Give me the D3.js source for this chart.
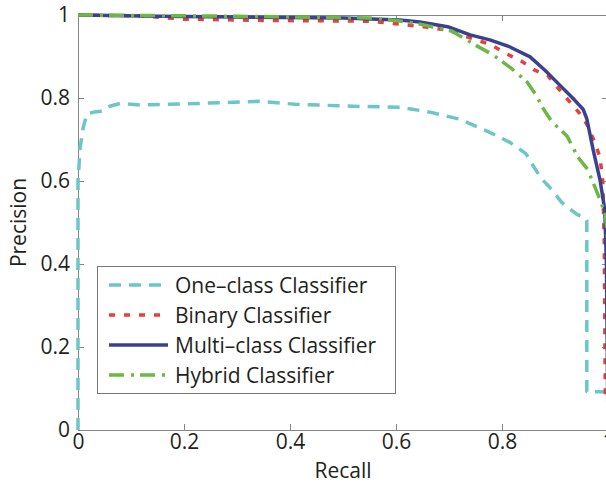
<!DOCTYPE html>
<html>
<head>
<meta charset="utf-8">
<script src="https://cdn.jsdelivr.net/npm/d3@7"></script>
<style>
  body { margin: 0; background: #fff; }
  text { font-family: "Open Sans", sans-serif; fill: #231f20; }
</style>
</head>
<body>
<script>
const w = 606
const h = 483

// recall / precision pairs
const oneClass = [[0, 0], [0, 0.6], [0.004, 0.68], [0.01, 0.73], [0.017, 0.762], [0.03, 0.766], [0.045, 0.768],
  [0.06, 0.78], [0.08, 0.787], [0.12, 0.783], [0.17, 0.785], [0.23, 0.787], [0.34, 0.792], [0.41, 0.785],
  [0.52, 0.78], [0.607, 0.778], [0.664, 0.766], [0.72, 0.749], [0.777, 0.717], [0.815, 0.693], [0.845, 0.666],
  [0.862, 0.63], [0.875, 0.605], [0.89, 0.585], [0.913, 0.548], [0.942, 0.519], [0.957, 0.512], [0.96, 0.505],
  [0.96, 0.092], [1, 0.092]]
const binary = [[0, 1], [0.12, 0.998], [0.2, 0.99], [0.35, 0.987], [0.55, 0.985], [0.607, 0.978], [0.65, 0.972],
  [0.696, 0.964], [0.74, 0.945], [0.78, 0.928], [0.806, 0.908], [0.834, 0.891], [0.862, 0.867], [0.887, 0.853],
  [0.905, 0.825], [0.925, 0.795], [0.951, 0.756], [0.962, 0.732], [0.975, 0.693], [0.985, 0.657], [0.99, 0.6],
  [0.993, 0.45], [0.995, 0.075], [1, 0.075]]
const multiClass = [[0, 1], [0.15, 0.997], [0.3, 0.995], [0.5, 0.993], [0.607, 0.988], [0.645, 0.983], [0.7, 0.971],
  [0.74, 0.952], [0.777, 0.94], [0.815, 0.923], [0.853, 0.899], [0.881, 0.867], [0.909, 0.831], [0.937, 0.795],
  [0.953, 0.773], [0.96, 0.75], [0.972, 0.675], [0.985, 0.602], [0.994, 0.53], [0.997, 0.4], [1, 0]]
const hybrid = [[0, 1], [0.3, 0.997], [0.55, 0.993], [0.6, 0.987], [0.645, 0.978], [0.706, 0.961], [0.749, 0.928],
  [0.783, 0.904], [0.819, 0.87], [0.847, 0.839], [0.866, 0.804], [0.875, 0.78], [0.894, 0.743], [0.923, 0.708],
  [0.943, 0.658], [0.962, 0.627], [0.983, 0.561], [0.995, 0.52], [1, 0.45]]

const seriesNames = ['One\u2013class Classifier', 'Binary Classifier', 'Multi\u2013class Classifier', 'Hybrid Classifier']
const xTicks = [0, 0.2, 0.4, 0.6, 0.8, 1]
const yTicks = [0, 0.2, 0.4, 0.6, 0.8, 1]

const series = [
  { name: seriesNames[0], data: oneClass, color: '#6dc6c6', dash: '12,8', width: 3.5 },
  { name: seriesNames[1], data: binary, color: '#e5403a', dash: '6,9', width: 3.5 },
  { name: seriesNames[2], data: multiClass, color: '#3b4191', dash: null, width: 3.5 },
  { name: seriesNames[3], data: hybrid, color: '#6cb844', dash: '15,7,3,6', width: 3.5 }
]

const plotLeft = 78
const plotRight = 608
const plotTop = 15
const plotBottom = 430
const axisColor = '#858585'

const svg = d3.select('body').append('svg')
  .attr('width', w)
  .attr('height', h)

const xScale = d3.scaleLinear().domain([0, 1]).range([plotLeft, plotRight])
const yScale = d3.scaleLinear().domain([0, 1]).range([plotBottom, plotTop])
const fmt = d => d === 0 || d === 1 ? String(d) : d.toFixed(1)

// axes, ticks pointing inwards like matlab
function styleAxis (g) {
  g.selectAll('.domain').attr('stroke', axisColor)
  g.selectAll('.tick line').attr('stroke', axisColor)
  g.selectAll('.tick text').attr('font-size', '21px').attr('fill', '#231f20')
    .attr('font-family', '"Open Sans", sans-serif')
}

svg.append('g')
  .attr('transform', 'translate(0,' + plotBottom + ')')
  .call(d3.axisBottom(xScale).tickValues(xTicks).tickFormat(fmt).tickSizeInner(-6).tickSizeOuter(0).tickPadding(4))
  .call(styleAxis)

svg.append('g')
  .attr('transform', 'translate(' + plotLeft + ',0)')
  .call(d3.axisLeft(yScale).tickValues(yTicks).tickFormat(fmt).tickSizeInner(-6).tickSizeOuter(0).tickPadding(8))
  .call(styleAxis)

svg.append('g')
  .attr('transform', 'translate(0,' + plotTop + ')')
  .call(d3.axisTop(xScale).tickValues(xTicks).tickFormat('').tickSizeInner(-6).tickSizeOuter(0))
  .call(styleAxis)

svg.append('g')
  .attr('transform', 'translate(' + plotRight + ',0)')
  .call(d3.axisRight(yScale).tickValues(yTicks).tickFormat('').tickSizeInner(-6).tickSizeOuter(0))
  .call(styleAxis)

// curves
const lineFn = d3.line()
  .x(d => xScale(d[0]))
  .y(d => yScale(d[1]))

series.forEach(s => {
  svg.append('path')
    .attr('d', lineFn(s.data))
    .attr('fill', 'none')
    .attr('stroke', s.color)
    .attr('stroke-width', s.width)
    .attr('stroke-dasharray', s.dash)
    .attr('stroke-linejoin', 'round')
})

// axis titles
svg.append('text')
  .attr('x', (plotLeft + plotRight) / 2)
  .attr('y', 478)
  .attr('text-anchor', 'middle')
  .attr('font-size', '21px')
  .text('Recall')

svg.append('text')
  .attr('transform', 'translate(26,' + (plotTop + plotBottom) / 2 + ') rotate(-90)')
  .attr('text-anchor', 'middle')
  .attr('font-size', '21px')
  .text('Precision')

// legend
const legend = svg.append('g')
legend.append('rect')
  .attr('x', 97.5)
  .attr('y', 266.5)
  .attr('width', 298)
  .attr('height', 127)
  .attr('fill', '#fff')
  .attr('stroke', '#777')
  .attr('stroke-width', 1)

series.forEach((s, i) => {
  const y = 285 + i * 30
  legend.append('line')
    .attr('x1', 109)
    .attr('x2', 168)
    .attr('y1', y)
    .attr('y2', y)
    .attr('stroke', s.color)
    .attr('stroke-width', s.width)
    .attr('stroke-dasharray', s.dash)
  legend.append('text')
    .attr('x', 175)
    .attr('y', y)
    .attr('dy', '0.36em')
    .attr('font-size', '21px')
    .text(s.name)
})
</script>
</body>
</html>
